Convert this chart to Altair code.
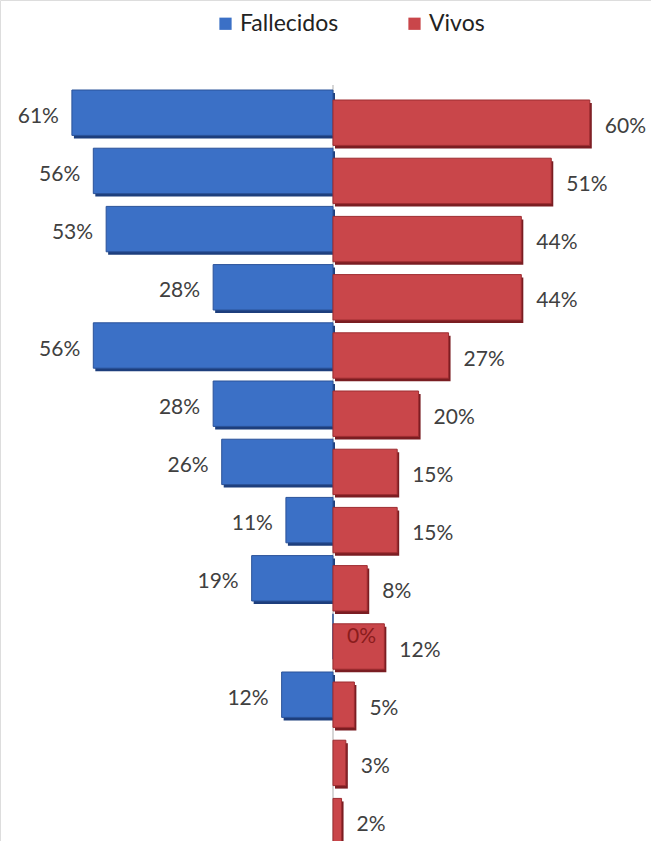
import altair as alt
import pandas as pd

filas = [f"F{i}" for i in range(1, 14)]
fallecidos = [61, 56, 53, 28, 56, 28, 26, 11, 19, 0, 12, None, None]
vivos = [60, 51, 44, 44, 27, 20, 15, 15, 8, 12, 5, 3, 2]
series = ["Fallecidos", "Vivos"]
colores = ["#3b70c6", "#c9464a"]
sombras = ["#1d3e7c", "#7a1d22"]

rows = []
for f, a, b in zip(filas, fallecidos, vivos):
    if a is not None:
        rows.append(dict(fila=f, serie="Fallecidos", valor=a, pos=-a, cero=0, etiqueta=f"{a}%"))
    rows.append(dict(fila=f, serie="Vivos", valor=b, pos=b, cero=0, etiqueta=f"{b}%"))
df = pd.DataFrame(rows)

FONT = "Lato"
x_scale = alt.Scale(domain=[-77.8, 74.3], nice=False, zero=False)
y_scale = alt.Scale(domain=filas, paddingInner=0.22, paddingOuter=0.835, align=0.926)
color_scale = alt.Scale(domain=series, range=colores)

base = alt.Chart(df)
X = alt.X("pos:Q", scale=x_scale, axis=None)
X2 = alt.X2("cero:Q")
Y = alt.Y("fila:N", scale=y_scale, axis=None, sort=filas)

legend = alt.Legend(
    orient="none", legendX=214, legendY=12, direction="horizontal", title=None,
    symbolType="square", symbolSize=150, symbolStrokeWidth=0, symbolOpacity=1,
    labelFontSize=23, labelFont=FONT, labelColor="#222222", columnPadding=64,
    labelOffset=3,
)
COLOR = alt.Color("serie:N", scale=color_scale, legend=legend)

blue = base.transform_filter(alt.datum.serie == "Fallecidos")
red = base.transform_filter(alt.datum.serie == "Vivos")

center = base.mark_rule(color="#d6d6d6", strokeWidth=1).encode(
    x=alt.X("cero:Q", scale=x_scale, axis=None), y=alt.value(85), y2=alt.value(841)
)

blue_shadow = blue.mark_bar(color=sombras[0], xOffset=2, yOffset=3, x2Offset=2, y2Offset=3).encode(x=X, x2=X2, y=Y)
blue_bar = blue.mark_bar(stroke="#2a5299", strokeWidth=1, opacity=1).encode(x=X, x2=X2, y=Y, color=COLOR)

red_shadow = red.mark_bar(color=sombras[1], xOffset=2, yOffset=13, x2Offset=2, y2Offset=13).encode(x=X, x2=X2, y=Y)
red_bar = red.mark_bar(stroke="#9e2d31", strokeWidth=1, yOffset=10, y2Offset=10, opacity=1).encode(
    x=X, x2=X2, y=Y, color=COLOR
)

txt = dict(font=FONT, fontSize=21, color="#404040", baseline="middle")
blue_lab = blue.transform_filter(alt.datum.valor > 0).mark_text(align="right", dx=-13, dy=4, **txt).encode(
    x=X, y=Y, text="etiqueta:N"
)
zero_lab = blue.transform_filter(alt.datum.valor == 0).mark_text(
    align="left", dx=14, dy=0, font=FONT, fontSize=21, color="#8a1c1c", baseline="middle"
).encode(x=X, y=Y, text="etiqueta:N")
red_lab = red.mark_text(align="left", dx=15, dy=14, **txt).encode(x=X, y=Y, text="etiqueta:N")

chart = alt.layer(
    center, blue_shadow, red_shadow, blue_bar, red_bar, blue_lab, zero_lab, red_lab
).properties(
    width=651, height=841, autosize=alt.AutoSizeParams(type="none"), padding=0
).configure_view(stroke=None).configure(background="white")

chart.save("out.html", embed_options={"renderer": "svg", "actions": False})
